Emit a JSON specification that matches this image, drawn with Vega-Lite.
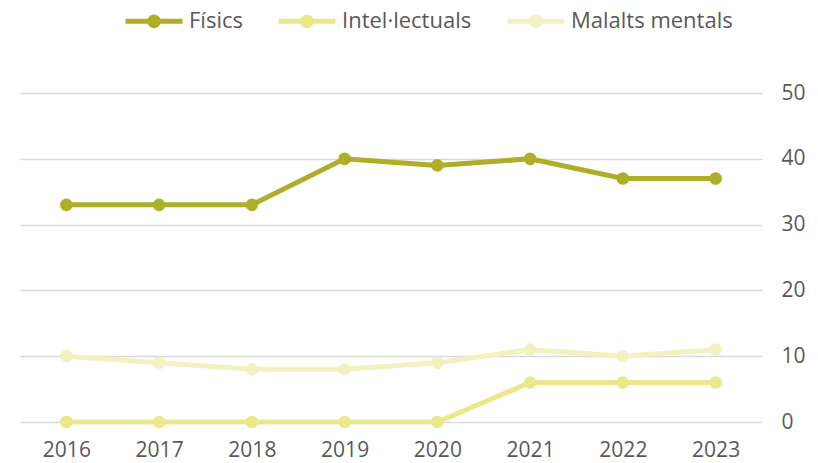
{
  "$schema": "https://vega.github.io/schema/vega-lite/v6.json",
  "width": 742,
  "height": 329,
  "autosize": {"type": "none"},
  "padding": {"left": 20, "top": 93, "right": 56, "bottom": 41},
  "background": "white",
  "config": {
    "font": "Open Sans",
    "view": {"stroke": null},
    "axis": {"labelColor": "#595959", "labelFontSize": 21, "domain": false, "ticks": false, "title": null}
  },
  "data": {
    "values": [
      {"any": "2016", "serie": "Físics", "valor": 33},
      {"any": "2017", "serie": "Físics", "valor": 33},
      {"any": "2018", "serie": "Físics", "valor": 33},
      {"any": "2019", "serie": "Físics", "valor": 40},
      {"any": "2020", "serie": "Físics", "valor": 39},
      {"any": "2021", "serie": "Físics", "valor": 40},
      {"any": "2022", "serie": "Físics", "valor": 37},
      {"any": "2023", "serie": "Físics", "valor": 37},
      {"any": "2016", "serie": "Intel·lectuals", "valor": 0},
      {"any": "2017", "serie": "Intel·lectuals", "valor": 0},
      {"any": "2018", "serie": "Intel·lectuals", "valor": 0},
      {"any": "2019", "serie": "Intel·lectuals", "valor": 0},
      {"any": "2020", "serie": "Intel·lectuals", "valor": 0},
      {"any": "2021", "serie": "Intel·lectuals", "valor": 6},
      {"any": "2022", "serie": "Intel·lectuals", "valor": 6},
      {"any": "2023", "serie": "Intel·lectuals", "valor": 6},
      {"any": "2016", "serie": "Malalts mentals", "valor": 10},
      {"any": "2017", "serie": "Malalts mentals", "valor": 9},
      {"any": "2018", "serie": "Malalts mentals", "valor": 8},
      {"any": "2019", "serie": "Malalts mentals", "valor": 8},
      {"any": "2020", "serie": "Malalts mentals", "valor": 9},
      {"any": "2021", "serie": "Malalts mentals", "valor": 11},
      {"any": "2022", "serie": "Malalts mentals", "valor": 10},
      {"any": "2023", "serie": "Malalts mentals", "valor": 11}
    ]
  },
  "mark": {"type": "line", "strokeWidth": 5, "point": {"size": 160, "filled": true, "opacity": 1}},
  "encoding": {
    "x": {
      "field": "any", "type": "ordinal",
      "scale": {"type": "point", "padding": 0.5},
      "axis": {"labelAngle": 0, "labelPadding": 17, "grid": false}
    },
    "y": {
      "field": "valor", "type": "quantitative",
      "scale": {"domain": [0, 50]},
      "axis": {"orient": "right", "values": [0, 10, 20, 30, 40, 50], "gridColor": "#d9d9d9", "gridWidth": 1.5, "labelPadding": 19}
    },
    "color": {
      "field": "serie", "type": "nominal",
      "scale": {"domain": ["Físics", "Intel·lectuals", "Malalts mentals"], "range": ["#AEAE28", "#E9E98B", "#F2F2C0"]},
      "legend": {
        "orient": "none", "direction": "horizontal", "legendX": 103, "legendY": -103,
        "title": null, "labelFontSize": 22, "labelColor": "#595959", "labelLimit": 400,
        "symbolType": "M-1,0H-0.18M0.18,0H1M-0.15,0A0.15,0.15 0 1,1 0.15,0A0.15,0.15 0 1,1 -0.15,0",
        "symbolSize": 3249, "symbolStrokeWidth": 5, "labelOffset": 4, "columnPadding": 25
      }
    },
    "order": {"field": "any"}
  }
}
